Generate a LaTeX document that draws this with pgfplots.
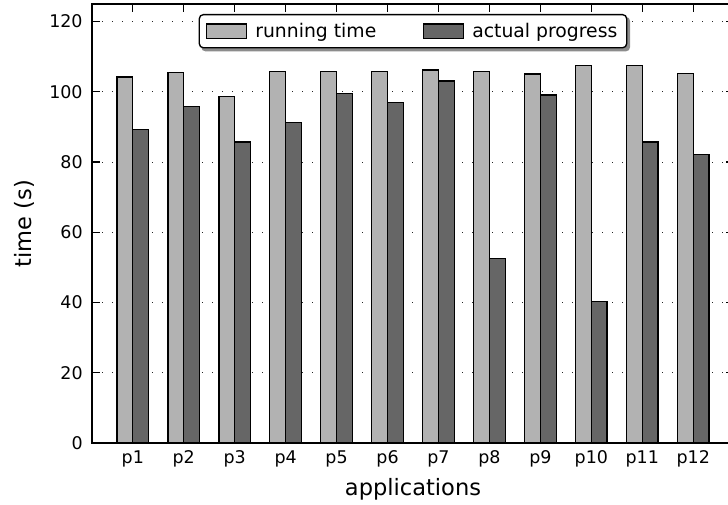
\documentclass[border=0pt]{standalone}
\usepackage{fontspec}
\setmainfont{DejaVu Sans}
\usepackage{pgfplots}
\usepackage{pgfplotstable}
\pgfplotsset{compat=1.18}
\usetikzlibrary{backgrounds}

\definecolor{lightbar}{gray}{0.70}
\definecolor{darkbar}{gray}{0.40}

% running time and actual progress per application (s)
\pgfplotstableread{
x run prog
0 104.2 89.3
1 105.5 95.9
2 98.7 85.7
3 105.8 91.3
4 105.8 99.6
5 105.8 96.9
6 106.2 103.1
7 105.8 52.5
8 105.1 99.1
9 107.4 40.3
10 107.4 85.7
11 105.3 82.1
}\apps

\begin{document}
\begin{tikzpicture}
\begin{axis}[
  scale only axis,
  width=481.5pt, height=329.25pt,
  xmin=-0.8, xmax=11.8, ymin=0, ymax=125,
  xtick={0,...,11},
  xticklabels={p1,p2,p3,p4,p5,p6,p7,p8,p9,p10,p11,p12},
  ytick={0,20,...,120},
  tick align=inside,
  major tick length=6pt,
  tick style={black, line width=0.8pt},
  axis line style={line width=1pt},
  ymajorgrids,
  grid style={black!85, line width=0.5pt, dash pattern=on 1pt off 6.5pt},
  /pgf/number format/assume math mode=true,
  ticklabel style={font=\fontsize{13.1}{15}\selectfont},
  xticklabel style={yshift=-2pt},
  yticklabel style={xshift=-3.5pt},
  xlabel={applications},
  ylabel={time (s)},
  label style={font=\fontsize{16.9}{20}\selectfont},
  xlabel style={at={(axis description cs:0.5,-0.1207)}, anchor=base},
  ylabel style={at={(axis description cs:-0.0943,0.5)}, anchor=base},
  legend columns=2,
  legend cell align=left,
  legend image code/.code={%
    \draw[#1, sharp corners, line width=1pt] (0pt,-5.4pt) rectangle (30pt,5.4pt);
    \node[draw=none, fill=none, inner sep=0pt, minimum size=0pt] at (34pt,0pt) {};},
  legend style={
    name=lgd,
    at={(axis description cs:0.5,1)}, anchor=north, yshift=-7.5pt,
    draw=black, line width=1pt, rounded corners=3pt,
    fill=white, inner ysep=4.3pt, inner xsep=5pt,
    font=\fontsize{14.1}{17}\selectfont,
    /tikz/every even column/.append style={column sep=33pt},
  },
]
\addplot[ybar, bar width=0.31, bar shift=-0.155, fill=lightbar, draw=black, line width=1pt]
  table[x=x, y=run] {\apps};
\addlegendentry{running time}
\addplot[ybar, bar width=0.31, bar shift=0.155, fill=darkbar, draw=black, line width=1pt]
  table[x=x, y=prog] {\apps};
\addlegendentry{actual progress}
\coordinate (tl) at (rel axis cs:0,1);
\end{axis}
% soft shadow behind the legend box
\begin{pgfonlayer}{background}
  \fill[black!45, rounded corners=3pt]
    ([shift={(2pt,-2.2pt)}]lgd.south west) rectangle ([shift={(2pt,-2.2pt)}]lgd.north east);
\end{pgfonlayer}
\pgfresetboundingbox
\path ([shift={(-69pt,3pt)}]tl) rectangle ([shift={(477pt,-375.75pt)}]tl);
\end{tikzpicture}
\end{document}
